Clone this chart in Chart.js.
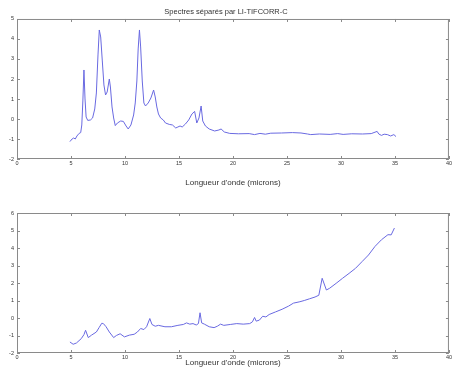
<!DOCTYPE html>
<html>
<head>
<meta charset="utf-8">
<script src="https://cdn.jsdelivr.net/npm/chart.js@4"></script>
<style>
  body { margin: 0; background: #fff; }
  canvas { position: absolute; left: 0; }
  #top { top: 0; }
  #bottom { top: 190px; }
</style>
</head>
<body>
<canvas id="top" width="453" height="190"></canvas>
<canvas id="bottom" width="453" height="180"></canvas>
<script>
// spectre 1 (upper panel)
var waveTop = [4.9, 5.1, 5.25, 5.4, 5.55, 5.75, 5.9, 6.0, 6.1, 6.2, 6.3, 6.4, 6.55, 6.8, 7.0, 7.2, 7.35, 7.5, 7.62, 7.75,
  7.9, 8.05, 8.2, 8.35, 8.55, 8.65, 8.8, 8.95, 9.1, 9.3, 9.6, 9.85, 10.1, 10.3, 10.55, 10.8, 10.95, 11.1, 11.22, 11.34,
  11.45, 11.6, 11.75, 11.9, 12.15, 12.4, 12.65, 12.8, 12.95, 13.1, 13.3, 13.55, 13.75, 14.1, 14.4, 14.7, 14.9, 15.1, 15.3, 15.6,
  15.9, 16.2, 16.45, 16.65, 16.85, 17.05, 17.2, 17.45, 17.8, 18.3, 18.7, 18.9, 19.2, 19.7, 20.5, 21.5, 22.0, 22.5, 23.0, 23.5,
  24.5, 25.5, 26.3, 26.9, 27.2, 28.0, 29.0, 29.7, 30.2, 31.0, 32.0, 32.8, 33.35, 33.5, 33.75, 34.0, 34.3, 34.6, 34.9, 35.1];
var fluxTop = [-1.13, -1.0, -0.95, -1.0, -0.85, -0.72, -0.68, -0.3, 0.9, 2.45, 1.0, 0.1, -0.07, -0.05, 0.05, 0.5, 1.3, 3.2, 4.45, 4.1,
  2.9, 1.7, 1.2, 1.35, 2.0, 1.6, 0.6, 0.05, -0.33, -0.2, -0.1, -0.12, -0.35, -0.5, -0.3, 0.2, 0.8, 1.9, 3.5, 4.45,
  3.6, 1.9, 0.8, 0.65, 0.8, 1.05, 1.45, 1.1, 0.6, 0.25, 0.05, -0.05, -0.2, -0.27, -0.3, -0.45, -0.4, -0.35, -0.4, -0.25,
  -0.05, 0.25, 0.38, -0.2, 0.05, 0.65, -0.1, -0.35, -0.5, -0.6, -0.55, -0.5, -0.65, -0.72, -0.74, -0.73, -0.78, -0.72, -0.76, -0.71,
  -0.7, -0.68, -0.7, -0.75, -0.78, -0.75, -0.77, -0.73, -0.77, -0.74, -0.75, -0.73, -0.62, -0.75, -0.82, -0.76, -0.78, -0.85, -0.78, -0.88];

// spectre 2 (lower panel)
var waveBottom = [4.9, 5.2, 5.5, 5.95, 6.2, 6.35, 6.6, 6.9, 7.35, 7.6, 7.85, 8.0, 8.25, 8.55, 8.95, 9.2, 9.55, 9.95, 10.4, 10.85,
  11.15, 11.45, 11.75, 12.0, 12.3, 12.5, 12.8, 13.1, 13.7, 14.3, 14.9, 15.4, 15.7, 16.0, 16.3, 16.6, 16.8, 16.95, 17.1, 17.35,
  17.8, 18.25, 18.55, 18.85, 19.15, 19.75, 20.35, 20.95, 21.55, 21.8, 22.0, 22.15, 22.45, 22.75, 23.05, 23.35, 23.95, 24.55, 25.15, 25.6,
  26.2, 26.6, 27.1, 27.6, 27.95, 28.26, 28.65, 28.95, 29.55, 30.15, 30.75, 31.35, 31.95, 32.55, 33.15, 33.75, 34.35, 34.65, 34.95];
var fluxBottom = [-1.37, -1.5, -1.43, -1.18, -0.95, -0.7, -1.12, -0.98, -0.8, -0.55, -0.3, -0.32, -0.5, -0.8, -1.12, -1.0, -0.9, -1.08, -0.98, -0.93,
  -0.8, -0.6, -0.66, -0.5, -0.03, -0.37, -0.47, -0.42, -0.5, -0.5, -0.42, -0.37, -0.28, -0.35, -0.32, -0.4, -0.32, 0.3, -0.28, -0.35,
  -0.5, -0.55, -0.47, -0.35, -0.42, -0.37, -0.32, -0.35, -0.32, -0.22, 0.03, -0.18, -0.12, 0.1, 0.06, 0.2, 0.35, 0.5, 0.68, 0.85,
  0.93, 1.0, 1.1, 1.2, 1.3, 2.27, 1.6, 1.7, 1.98, 2.27, 2.55, 2.84, 3.22, 3.6, 4.09, 4.47, 4.76, 4.75, 5.14];

var titleText = "Spectres séparés par LI-TIFCORR-C";
var xLabel = "Longueur d'onde (microns)";
var xRange = [0, 40];
var yRangeTop = [-2, 5];
var yRangeBottom = [-2, 6];

var lineColor = "rgb(105, 105, 225)";
var frameColor = "#8a8a8a";
var textColor = "#333";
var fontFamily = "'Liberation Sans', Arial, sans-serif";

function points(xs, ys) {
  return xs.map(function (x, i) { return { x: x, y: ys[i] }; });
}

// matlab-like box with ticks pointing inward
var boxPlugin = {
  id: 'box',
  afterDraw: function (chart) {
    var ctx = chart.ctx;
    var a = chart.chartArea;
    var len = 3;
    ctx.save();
    ctx.strokeStyle = frameColor;
    ctx.lineWidth = 1;
    ctx.strokeRect(a.left + 0.5, a.top + 0.5, a.right - a.left - 1, a.bottom - a.top - 1);
    ctx.beginPath();
    chart.scales.x.ticks.forEach(function (t) {
      var px = Math.round(chart.scales.x.getPixelForValue(t.value)) + 0.5;
      ctx.moveTo(px, a.bottom); ctx.lineTo(px, a.bottom - len);
      ctx.moveTo(px, a.top); ctx.lineTo(px, a.top + len);
    });
    chart.scales.y.ticks.forEach(function (t) {
      var py = Math.round(chart.scales.y.getPixelForValue(t.value)) + 0.5;
      ctx.moveTo(a.left, py); ctx.lineTo(a.left + len, py);
      ctx.moveTo(a.right, py); ctx.lineTo(a.right - len, py);
    });
    ctx.stroke();
    ctx.restore();
  }
};

function makeChart(id, xs, ys, yRange, withTitle, xHeight, tickPad) {
  return new Chart(document.getElementById(id), {
    type: 'line',
    data: {
      datasets: [{
        data: points(xs, ys),
        borderColor: lineColor,
        borderWidth: 1,
        pointRadius: 0,
        tension: 0,
        fill: false
      }]
    },
    plugins: [boxPlugin],
    options: {
      responsive: false,
      animation: false,
      layout: { padding: { left: 0, right: 1, top: withTitle ? 0 : 23, bottom: 0 } },
      plugins: {
        legend: { display: false },
        tooltip: { enabled: false },
        title: {
          display: withTitle,
          text: titleText,
          color: textColor,
          font: { family: fontFamily, size: 7.5, weight: 'normal', lineHeight: 1.25 },
          padding: { top: 7, bottom: 2.6 }
        }
      },
      scales: {
        x: {
          type: 'linear',
          min: xRange[0],
          max: xRange[1],
          ticks: {
            stepSize: 5,
            color: textColor,
            padding: tickPad,
            maxRotation: 0,
            font: { family: fontFamily, size: 5.5 }
          },
          grid: { display: false, drawTicks: false, tickLength: 0 },
          border: { display: false },
          title: {
            display: true,
            text: xLabel,
            color: textColor,
            font: { family: fontFamily, size: 8, lineHeight: 1.25 },
            padding: { top: 0, bottom: 2 }
          },
          afterFit: function (s) { s.height = xHeight; }
        },
        y: {
          min: yRange[0],
          max: yRange[1],
          ticks: {
            stepSize: 1,
            color: textColor,
            padding: 3,
            font: { family: fontFamily, size: 5.5 }
          },
          grid: { display: false, drawTicks: false, tickLength: 0 },
          border: { display: false },
          afterFit: function (s) { s.width = 17; }
        }
      }
    }
  });
}

makeChart('top', waveTop, fluxTop, yRangeTop, true, 31, 1);
makeChart('bottom', waveBottom, fluxBottom, yRangeBottom, false, 17, 1);
</script>
</body>
</html>
